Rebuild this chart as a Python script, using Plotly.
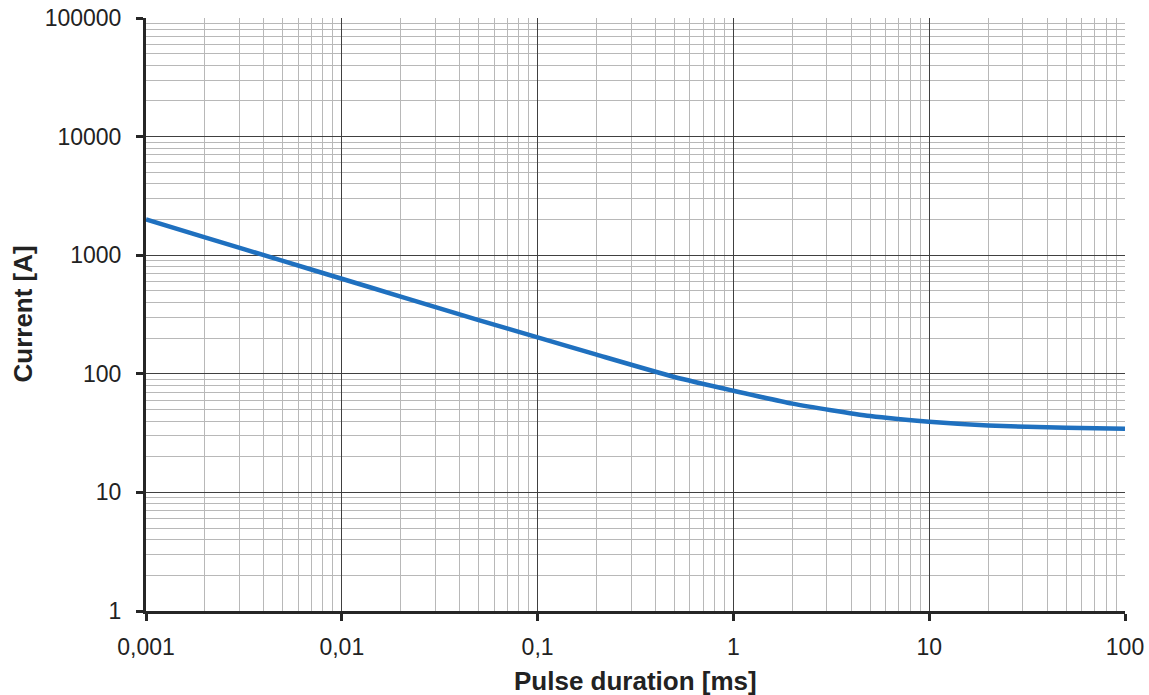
import plotly.graph_objects as go

# Data
pulse_ms = [0.001, 0.002, 0.005, 0.01, 0.02, 0.05, 0.1, 0.2, 0.5, 1, 2, 5, 10, 20, 50, 100]
current_a = [2000, 1415, 895, 633, 448, 284, 203, 145, 94, 72, 56, 44, 39.4, 36.7, 35, 34.4]

x_tickvals = [0.001, 0.01, 0.1, 1, 10, 100]
x_ticktext = ["0,001", "0,01", "0,1", "1", "10", "100"]
y_tickvals = [1, 10, 100, 1000, 10000, 100000]
y_ticktext = ["1", "10", "100", "1000", "10000", "100000"]

font_family = "Liberation Sans, Arial, sans-serif"
text_color = "#222222"

fig = go.Figure()
fig.add_trace(go.Scatter(
    x=pulse_ms, y=current_a, mode="lines",
    line=dict(color="#1f70bf", width=4.5, shape="spline", smoothing=0.6),
    hoverinfo="skip", showlegend=False,
))

axis_common = dict(
    type="log",
    automargin=False,
    showline=True, linecolor="#262626", linewidth=3,
    ticks="outside", ticklen=7, tickwidth=3, tickcolor="#262626",
    showgrid=True, gridcolor="#404040", gridwidth=1,
    zeroline=False,
    tickfont=dict(family=font_family, size=23, color=text_color),
    minor=dict(dtick="D1", showgrid=True, gridcolor="#b8b8b8", gridwidth=1, ticklen=0),
)

fig.update_layout(
    width=1149, height=695,
    margin=dict(l=146, r=24, t=18, b=84),
    paper_bgcolor="white", plot_bgcolor="white",
    xaxis=dict(
        **axis_common,
        range=[-3, 2],
        tickvals=x_tickvals, ticktext=x_ticktext,
        ticklabelstandoff=6,
    ),
    yaxis=dict(
        **axis_common,
        range=[0, 5],
        tickvals=y_tickvals, ticktext=y_ticktext,
        ticklabelstandoff=10,
    ),
    annotations=[
        dict(text="<b>Pulse duration [ms]</b>", xref="paper", yref="paper",
             x=0.5, y=0, xanchor="center", yanchor="middle", yshift=-70,
             showarrow=False, borderpad=0,
             font=dict(family=font_family, size=26, color=text_color)),
        dict(text="<b>Current [A]</b>", xref="paper", yref="paper",
             x=0, y=0.5, xanchor="center", yanchor="middle", xshift=-124,
             textangle=-90, showarrow=False, borderpad=0,
             font=dict(family=font_family, size=26, color=text_color)),
    ],
)

fig.write_html(
    "out.html",
    config={"displayModeBar": False},
    post_script="document.body.style.margin='0';document.body.style.overflow='hidden';",
)
